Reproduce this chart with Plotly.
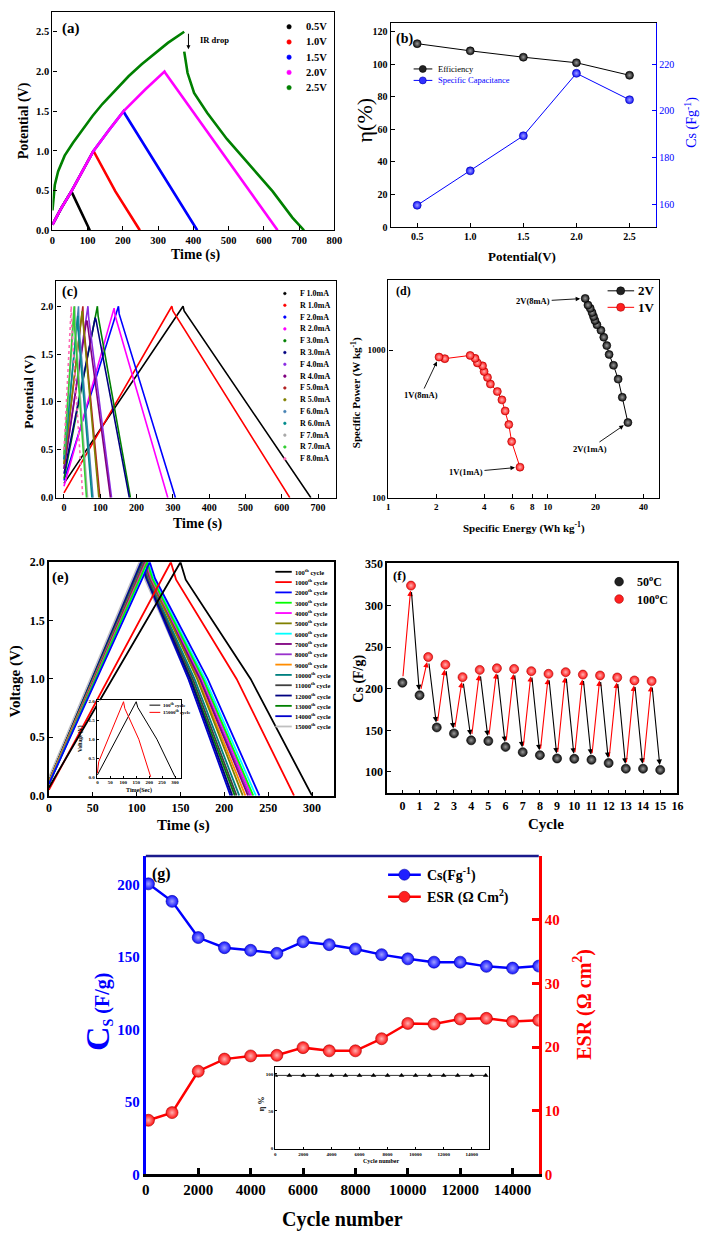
import plotly.graph_objects as go
import numpy as np

W, H = 708, 1240
SERIF = "Liberation Serif"

# ---------------- (a) GCD at different potential windows ----------------
a_labels = ['0.5V', '1.0V', '1.5V', '2.0V', '2.5V']
a_colors = ['#000000', '#ff0000', '#0000ff', '#ff00ff', '#008000']
a_t_05 = [0, 25, 53.7, 106]
a_v_05 = [0.07, 0.28, 0.49, 0.0]
a_t_10 = [0, 25, 53.7, 86, 116.4, 120, 178.6, 248]
a_v_10 = [0.07, 0.28, 0.49, 0.75, 1.0, 0.97, 0.49, 0.0]
a_t_15 = [0, 25, 53.7, 86, 116.4, 160, 202, 205, 411]
a_v_15 = [0.07, 0.28, 0.49, 0.75, 1.0, 1.26, 1.5, 1.47, 0.0]
a_t_20 = [0, 25, 53.7, 86, 116.4, 160, 202, 262.6, 318, 322, 639]
a_v_20 = [0.07, 0.28, 0.49, 0.75, 1.0, 1.26, 1.5, 1.77, 2.0, 1.97, 0.0]
a_t_25 = [0, 6.6, 16, 34.6, 57.9, 85.8, 113.7, 141.6, 178.8, 216, 253.2, 290.4, 327.6, 374,
          None, 374, 383.5, 402, 439, 495, 560, 625, 681, 714]
a_v_25 = [0.25, 0.57, 0.74, 0.94, 1.10, 1.27, 1.44, 1.59, 1.77, 1.94, 2.09, 2.23, 2.36, 2.50,
          None, 2.25, 1.98, 1.73, 1.48, 1.15, 0.82, 0.49, 0.16, 0.0]
a_times = [a_t_05, a_t_10, a_t_15, a_t_20, a_t_25]
a_volts = [a_v_05, a_v_10, a_v_15, a_v_20, a_v_25]

# ---------------- (b) efficiency & capacitance ----------------
b_pot = [0.5, 1.0, 1.5, 2.0, 2.5]
b_eff = [112.5, 108.1, 104.2, 100.8, 93.1]
b_cs = [159.7, 174.4, 189.4, 216.1, 204.8]

# ---------------- (c) GCD at different currents ----------------
c_labels = ['F 1.0mA', 'R 1.0mA', 'F 2.0mA', 'R 2.0mA', 'F 3.0mA', 'R 3.0mA', 'F 4.0mA', 'R 4.0mA',
            'F 5.0mA', 'R 5.0mA', 'F 6.0mA', 'R 6.0mA', 'F 7.0mA', 'R 7.0mA', 'F 8.0mA']
c_colors = ['#000000', '#ff0000', '#0000ff', '#ff00ff', '#008000', '#000080', '#8a2be2', '#800080',
            '#b22222', '#808000', '#4682b4', '#008b8b', '#a9a9a9', '#32cd32', '#ff69b4']
c_v0 = [0.15, 0.05, 0.18, 0.12, 0.20, 0.25, 0.30, 0.30, 0.35, 0.35, 0.40, 0.40, 0.45, 0.45, 0.50]
c_tpeak = [328, 297, 150, 138, 92, 86, 66, 62, 52, 50, 40, 38, 30, 28, 20]
c_vpeak = [2.0, 2.0, 2.0, 1.98, 2.0, 1.88, 2.0, 1.85, 2.0, 1.95, 2.0, 1.9, 2.0, 2.0, 2.0]
c_tdrop = [331, 300, 152, 141, 94, 88, 68, 64, 53, 51, 41, 39, 31, 29, 21]
c_vdrop = [1.95, 1.95, 1.92, 1.90, 1.90, 1.86, 1.88, 1.84, 1.85, 1.90, 1.80, 1.75, 1.80, 1.80, 1.80]
c_tend = [680, 622, 307, 286, 183, 180, 131, 128, 99, 96, 80, 77, 65, 62, 52]

# ---------------- (d) Ragone ----------------
d2_E = [31.9, 29.4, 27.7, 25.9, 24.3, 23.5, 22.5, 21.6, 20.4, 19.8, 19.4, 19.0, 18.5, 17.9, 17.2]
d2_P = [323, 479, 636, 789, 934, 1073, 1222, 1361, 1483, 1587, 1687, 1795, 1919, 2018, 2240]
d1_E = [6.70, 5.94, 5.70, 5.41, 5.16, 4.83, 4.37, 4.19, 3.99, 3.90, 3.62, 3.50, 3.26, 2.26, 2.08]
d1_P = [161, 240, 313, 387, 460, 524, 589, 653, 716, 782, 819, 879, 920, 875, 897]

# ---------------- (e) GCD vs cycles ----------------
e_cycles = ['100', '1000', '2000', '3000', '4000', '5000', '6000', '7000', '8000', '9000',
            '10000', '11000', '12000', '13000', '14000', '15000']
e_colors = ['#000000', '#ff0000', '#0000ff', '#00ff00', '#ff00ff', '#808000', '#00ffff', '#800080',
            '#9932cc', '#ff8c00', '#008080', '#404040', '#000080', '#008000', '#0000cd', '#c0c0c0']
e_v0 = [0.07, 0.05, 0.10, 0.10, 0.10, 0.10, 0.10, 0.10, 0.10, 0.12, 0.12, 0.12, 0.12, 0.12, 0.12, 0.14]
e_tpeak = [150, 139, 115, 112, 111, 110, 113, 109, 110, 109, 108, 107, 106, 106, 105, 104]
e_tknee = [156, 145, 121, 118, 117, 116, 119, 115, 116, 115, 114, 113, 112, 112, 111, 110]
e_vknee = [1.85, 1.85, 1.86, 1.86, 1.86, 1.86, 1.86, 1.86, 1.86, 1.86, 1.86, 1.86, 1.86, 1.86, 1.86, 1.86]
e_tmid = [230, 214, 181, 176, 175, 169, 178, 172, 173, 170, 166, 164, 161, 162, 159, 160]
e_tend = [300, 279.5, 240, 233, 231, 221, 236, 227, 229, 224, 217, 214, 209, 212, 207, 210]
# inset of (e)
ei_t100 = [0, 150, 156, 230, 300]
ei_v100 = [0.05, 2.0, 1.85, 1.0, 0.0]
ei_t15000 = [0, 5, 101, 106, 160, 206]
ei_v15000 = [0.1, 0.4, 2.0, 1.82, 1.0, 0.0]

# ---------------- (f) temperature switching ----------------
f_cyc50 = [0, 1, 2, 3, 4, 5, 6, 7, 8, 9, 10, 11, 12, 13, 14, 15]
f_cs50 = [207.3, 192.2, 153.5, 146.3, 138.0, 137.2, 130.1, 123.8, 120.2, 116.2, 115.8, 114.6,
          110.7, 103.9, 103.9, 102.4]
f_cyc100 = [0.5, 1.5, 2.5, 3.5, 4.5, 5.5, 6.5, 7.5, 8.5, 9.5, 10.5, 11.5, 12.5, 13.5, 14.5]
f_cs100 = [324.1, 238.2, 229.0, 214.0, 222.7, 224.7, 223.9, 221.2, 218.0, 220.0, 217.1, 216.0,
           213.6, 210.0, 209.3]

# ---------------- (g) cycling stability ----------------
g_cycle = [100, 1000, 2000, 3000, 4000, 5000, 6000, 7000, 8000, 9000, 10000, 11000, 12000, 13000, 14000, 15000]
g_cs = [200.7, 188.6, 163.6, 156.6, 154.8, 152.7, 160.7, 158.7, 155.7, 151.8, 148.9, 146.6, 146.6,
        143.7, 142.5, 143.9]
g_esr = [8.5, 9.7, 16.2, 18.1, 18.6, 18.7, 19.9, 19.4, 19.4, 21.3, 23.7, 23.6, 24.4, 24.5, 24.0, 24.2]
g_ticks = [0, 2000, 4000, 6000, 8000, 10000, 12000, 14000]
gi_cycle = [0, 1000, 2000, 3000, 4000, 5000, 6000, 7000, 8000, 9000, 10000, 11000, 12000, 13000, 14000, 15000]
gi_eta = [98, 98, 98, 98, 98, 98, 98, 98, 98, 98, 98, 98, 98, 98, 98, 98]

# =====================================================================
fig = go.Figure()
annos = []
shapes = []


def dom(l, r, t, b):
    return [l / W, r / W], [1 - b / H, 1 - t / H]


def axstyle(size, color='black', lw=1.3, ticklen=4, bold=True, mirror=True, ticks='inside', tw=1):
    return dict(showline=True, linecolor=color, linewidth=lw, mirror=mirror, ticks=ticks,
                ticklen=ticklen, tickwidth=tw, tickcolor=color, showgrid=False, zeroline=False,
                tickfont=dict(family=SERIF, size=size, color=color, weight='bold' if bold else 'normal'))


def text(x, y, s, size, color='black', bold=True, angle=0, xanchor='center'):
    annos.append(dict(x=x / W, y=1 - y / H, xref='paper', yref='paper', text=s, showarrow=False,
                      font=dict(family=SERIF, size=size, color=color,
                                weight='bold' if bold else 'normal'),
                      textangle=angle, xanchor=xanchor, yanchor='middle'))


def seg(x0, x1, y, color, width, dash='solid'):
    shapes.append(dict(type='line', xref='paper', yref='paper', x0=x0 / W, x1=x1 / W,
                       y0=1 - y / H, y1=1 - y / H, line=dict(color=color, width=width, dash=dash)))


def dot(x, y, r, color, lc=None):
    shapes.append(dict(type='circle', xref='paper', yref='paper', xsizemode='pixel', ysizemode='pixel',
                       xanchor=x / W, yanchor=1 - y / H, x0=-r, x1=r, y0=-r, y1=r,
                       fillcolor=color, line=dict(color=lc or color, width=0.6)))


def sphere(color, light, size, lc):
    return dict(color=color, size=size, line=dict(color=lc, width=0.6),
                gradient=dict(type='radial', color=light))


layout = dict(width=W, height=H, margin=dict(l=0, r=0, t=0, b=0), autosize=False,
              paper_bgcolor='white', plot_bgcolor='white', showlegend=False,
              font=dict(family=SERIF, color='black'))

# ---------- (a) ----------
for col, t, v in zip(a_colors, a_times, a_volts):
    fig.add_trace(go.Scatter(x=t, y=v, mode='lines', line=dict(color=col, width=2.6),
                             xaxis='x', yaxis='y', connectgaps=False))
xd, yd = dom(49.3, 336, 5, 226)
layout['xaxis'] = dict(domain=xd, anchor='y', range=[0, 800], dtick=100, **axstyle(10.5))
layout['yaxis'] = dict(domain=yd, anchor='x', range=[0, 2.75], dtick=0.5, tickformat='.1f', **axstyle(10.5))
text(20, 115, 'Potential (V)', 14, angle=-90)
text(195, 251, 'Time (s)', 14)
text(57, 22, '(a)', 15, xanchor='left')
for i, (lbl, col) in enumerate(zip(a_labels, a_colors)):
    y = 20 + 15.4 * i
    dot(290, y, 2.2, col)
    text(305, y, lbl, 10.5, xanchor='left')
annos.append(dict(x=386, y=2.28, xref='x', yref='y', ax=0, ay=-17, text='', showarrow=True,
                  arrowhead=2, arrowsize=0.8, arrowwidth=1, arrowcolor='black'))
text(197, 33, 'IR drop', 8.5, xanchor='left')

# ---------- (b) ----------
fig.add_trace(go.Scatter(x=b_pot, y=b_eff, mode='lines+markers', line=dict(color='black', width=1),
                         marker=sphere('#111111', '#9a9a9a', 8, '#000000'), xaxis='x2', yaxis='y2'))
fig.add_trace(go.Scatter(x=b_pot, y=b_cs, mode='lines+markers', line=dict(color='#0000ff', width=1),
                         marker=sphere('#1010ff', '#a0a0ff', 8, '#0000aa'), xaxis='x2', yaxis='y3'))
xd, yd = dom(393.3, 663.3, 16, 222.7)
layout['xaxis2'] = dict(domain=xd, anchor='y2', range=[0.25, 2.75], tickvals=[0.5, 1.0, 1.5, 2.0, 2.5],
                        tickformat='.1f', **axstyle(10))
layout['yaxis2'] = dict(domain=yd, anchor='x2', range=[0, 125.3], dtick=20, **axstyle(10, mirror=False))
layout['yaxis3'] = dict(overlaying='y2', side='right', anchor='x2', range=[150.4, 237.7],
                        tickvals=[160, 180, 200, 220], **axstyle(10, color='#0000ff', bold=False, mirror=False))
text(367, 115, 'η(%)', 22, bold=False, angle=-90)
text(699, 117, 'Cs (Fg<sup>-1</sup>)', 14, color='#0000ff', bold=False, angle=-90)
text(527, 253, 'Potential(V)', 13)
text(397, 32, '(b)', 14, xanchor='left')
seg(416.7, 435.7, 62.7, 'black', 1)
dot(426, 62.7, 3.5, '#222222', 'black')
text(439, 62.7, 'Efficiency', 8.5, bold=False, xanchor='left')
seg(416.7, 435.7, 74.3, '#0000ff', 1)
dot(426, 74.3, 3.5, '#3030ff', '#0000aa')
text(439, 74.3, 'Specific Capacitance', 8.5, color='#0000ff', bold=False, xanchor='left')

# ---------- (c) ----------
for i in range(len(c_labels)):
    t = [0, c_tpeak[i], c_tdrop[i], c_tend[i]]
    v = [c_v0[i], c_vpeak[i], c_vdrop[i], 0.0]
    fig.add_trace(go.Scatter(x=t, y=v, mode='lines',
                             line=dict(color=c_colors[i], width=1.6,
                                       dash='dot' if c_labels[i] == 'F 8.0mA' else 'solid'),
                             xaxis='x3', yaxis='y4'))
xd, yd = dom(53.3, 338, 277.7, 496.7)
layout['xaxis3'] = dict(domain=xd, anchor='y4', range=[-20.9, 750], dtick=100, **axstyle(10))
layout['yaxis4'] = dict(domain=yd, anchor='x3', range=[0, 2.26], dtick=0.5, tickformat='.1f', **axstyle(10))
text(25, 390, 'Potential (V)', 13.5, angle=-90)
text(197, 523, 'Time (s)', 14)
text(57, 288, '(c)', 14, xanchor='left')
for i, (lbl, col) in enumerate(zip(c_labels, c_colors)):
    y = 290 + 11.95 * i
    dot(285.7, y, 1.3, col)
    text(299, y, lbl, 8, xanchor='left')

# ---------- (d) ----------
fig.add_trace(go.Scatter(x=d2_E, y=d2_P, mode='lines+markers', line=dict(color='black', width=1),
                         marker=sphere('#111111', '#9a9a9a', 8, '#000000'), xaxis='x4', yaxis='y5'))
fig.add_trace(go.Scatter(x=d1_E, y=d1_P, mode='lines+markers', line=dict(color='#ff0000', width=1),
                         marker=sphere('#ff1010', '#ffb0b0', 8, '#aa0000'), xaxis='x4', yaxis='y5'))
xd, yd = dom(391, 666.3, 276, 496.7)
layout['xaxis4'] = dict(domain=xd, anchor='y5', type='log', range=[0, np.log10(50)],
                        tickvals=[1, 2, 4, 6, 8, 10, 20, 40], ticktext=['1', '2', '4', '6', '8', '10', '20', '40'],
                        **axstyle(9))
layout['yaxis5'] = dict(domain=yd, anchor='x4', type='log', range=[2, np.log10(3000)],
                        tickvals=[100, 1000], ticktext=['100', '1000'], **axstyle(9))
text(358, 390, 'Specific Power (W kg<sup>-1</sup>)', 11, angle=-90)
text(529, 527, 'Specific Energy (Wh kg<sup>-1</sup>)', 11)
text(397, 287, '(d)', 12, xanchor='left')
seg(614, 641, 287.3, 'black', 1)
dot(627.3, 287.3, 4, '#222222', 'black')
text(643, 287.3, '2V', 13, xanchor='left')
seg(614, 641, 304, '#ff0000', 1)
dot(627.3, 304, 4, '#ff2020', '#aa0000')
text(643, 304, '1V', 13, xanchor='left')
for lbl, E, P, ax, ay in [('2V(8mA)', d2_E[-1], d2_P[-1], -52, 3),
                          ('1V(8mA)', d1_E[-1], d1_P[-1], -18, 38),
                          ('1V(1mA)', d1_E[0], d1_P[0], -54, 5),
                          ('2V(1mA)', d2_E[0], d2_P[0], -38, 26)]:
    annos.append(dict(x=np.log10(E), y=np.log10(P), xref='x4', yref='y5', ax=ax, ay=ay, text=lbl,
                      showarrow=True, arrowhead=2, arrowsize=1, arrowwidth=0.9, arrowcolor='black',
                      standoff=5, font=dict(family=SERIF, size=8.5, color='black', weight='bold')))

# ---------- (e) ----------
for i in reversed(range(len(e_cycles))):
    t = [0, e_tpeak[i], e_tknee[i], e_tmid[i], e_tend[i]]
    v = [e_v0[i], 2.0, e_vknee[i], 1.0, 0.0]
    fig.add_trace(go.Scatter(x=t, y=v, mode='lines',
                             line=dict(color=e_colors[i], width=3.2 if i == 15 else 1.8),
                             xaxis='x5', yaxis='y6'))
xd, yd = dom(45.7, 336, 562, 798.3)
layout['xaxis5'] = dict(domain=xd, anchor='y6', range=[0, 325.4], dtick=50, **axstyle(12, lw=1.8))
layout['yaxis6'] = dict(domain=yd, anchor='x5', range=[0, 2.0], dtick=0.5, tickformat='.1f',
                        **axstyle(12, lw=1.8))
text(12, 683, 'Voltage (V)', 15, angle=-90)
text(183, 829, 'Time (s)', 15)
text(47, 577, '(e)', 15, xanchor='left')
for i, (cyc, col) in enumerate(zip(e_cycles, e_colors)):
    y = 571.7 + 10.44 * i
    seg(276, 292.7, y, col, 1.8)
    text(294, y, cyc + '<sup>th</sup> cycle', 6.5, xanchor='left')
# inset
fig.add_trace(go.Scatter(x=ei_t100, y=ei_v100, mode='lines', line=dict(color='black', width=1),
                         xaxis='x6', yaxis='y7'))
fig.add_trace(go.Scatter(x=ei_t15000, y=ei_v15000, mode='lines', line=dict(color='#ff0000', width=1),
                         xaxis='x6', yaxis='y7'))
xd, yd = dom(94.3, 180, 701.7, 780)
layout['xaxis6'] = dict(domain=xd, anchor='y7', range=[-2.7, 323], dtick=50,
                        **axstyle(5, lw=0.8, ticklen=2))
layout['yaxis7'] = dict(domain=yd, anchor='x6', range=[-0.02, 2.04], dtick=0.5, tickformat='.1f',
                        **axstyle(5, lw=0.8, ticklen=2))
text(77.3, 740, 'Voltage (V)', 5.5, angle=-90)
text(137, 793, 'Time(Sec)', 6)
seg(148, 159, 706.7, 'black', 1)
text(160, 706.7, '100<sup>th</sup> cycle', 5, xanchor='left')
seg(148, 159, 714, '#ff0000', 1)
text(160, 714, '15000<sup>th</sup> cycle', 5, xanchor='left')

# ---------- (f) ----------
fig.add_trace(go.Scatter(x=f_cyc50, y=f_cs50, mode='markers',
                         marker=sphere('#111111', '#9a9a9a', 9, '#000000'), xaxis='x7', yaxis='y8'))
fig.add_trace(go.Scatter(x=f_cyc100, y=f_cs100, mode='markers',
                         marker=sphere('#ff1010', '#ffb0b0', 9, '#aa0000'), xaxis='x7', yaxis='y8'))
for i in range(len(f_cyc100)):
    annos.append(dict(x=f_cyc100[i], y=f_cs100[i], ax=f_cyc50[i], ay=f_cs50[i],
                      xref='x7', yref='y8', axref='x7', ayref='y8', text='', showarrow=True,
                      arrowhead=2, arrowsize=1, arrowwidth=1.1, arrowcolor='#ff0000',
                      standoff=5, startstandoff=5))
    annos.append(dict(x=f_cyc50[i + 1], y=f_cs50[i + 1], ax=f_cyc100[i], ay=f_cs100[i],
                      xref='x7', yref='y8', axref='x7', ayref='y8', text='', showarrow=True,
                      arrowhead=2, arrowsize=1, arrowwidth=1.1, arrowcolor='black',
                      standoff=5, startstandoff=5))
xd, yd = dom(389.7, 685, 563.3, 796)
layout['xaxis7'] = dict(domain=xd, anchor='y8', range=[-0.89, 16], dtick=1, **axstyle(12, lw=1.5))
layout['yaxis8'] = dict(domain=yd, anchor='x7', range=[74.2, 350.7], tickvals=[100, 150, 200, 250, 300, 350],
                        **axstyle(12, lw=1.5))
text(361, 680, 'Cs (F/g)', 14, angle=-90)
text(551, 827, 'Cycle', 15)
text(394, 575, '(f)', 13, xanchor='left')
dot(625.7, 581.7, 4.3, '#222222', 'black')
text(642, 581.7, '50<sup>o</sup>C', 12, xanchor='left')
dot(625.7, 599.3, 4.3, '#ff2020', '#aa0000')
text(642, 599.3, '100<sup>o</sup>C', 12, xanchor='left')

# ---------- (g) ----------
fig.add_trace(go.Scatter(x=g_cycle, y=g_cs, mode='lines+markers', line=dict(color='#0000ff', width=2.5),
                         marker=sphere('#1010ff', '#a0a0ff', 12, '#0000aa'), xaxis='x8', yaxis='y9'))
fig.add_trace(go.Scatter(x=g_cycle, y=g_esr, mode='lines+markers', line=dict(color='#ff0000', width=2.5),
                         marker=sphere('#ff1010', '#ffb0b0', 12, '#aa0000'), xaxis='x8', yaxis='y10'))
xd, yd = dom(144.3, 544, 859.3, 1181.7)
layout['xaxis8'] = dict(domain=xd, anchor='y9', range=[0, 15000], tickvals=g_ticks,
                        ticktext=[str(v) for v in g_ticks],
                        **axstyle(15, lw=2.5, ticklen=7, mirror=False, tw=2.5))
layout['yaxis9'] = dict(domain=yd, anchor='x8', range=[0, 220], tickvals=[0, 50, 100, 150, 200],
                        **axstyle(15, color='#0000ff', lw=3, mirror=False, ticks=''))
layout['yaxis10'] = dict(overlaying='y9', side='right', anchor='x8', range=[0, 50],
                         tickvals=[0, 10, 20, 30, 40],
                         **axstyle(15, color='#ff0000', lw=3, ticklen=7, mirror=False, tw=2.5))
shapes.append(dict(type='line', xref='x8 domain', yref='y9 domain', x0=0, x1=1, y0=1, y1=1,
                   line=dict(color='#1a1a8c', width=2.5)))
text(95, 1017, '<span style="font-size:34px">C</span><sub>S</sub> (F/g)', 20, color='#0000ff', angle=-90)
text(589, 1010, 'ESR (Ω cm<sup>2</sup>)', 20, color='#ff0000', angle=-90)
text(344, 1227, 'Cycle number', 20)
text(149, 878, '(g)', 16, xanchor='left')
seg(390.7, 424, 878.3, '#0000ff', 2.5)
dot(407.3, 878.3, 5.5, '#2020ff', '#0000aa')
text(428, 878.3, 'Cs(Fg<sup>-1</sup>)', 14, xanchor='left')
seg(390.7, 424, 900.7, '#ff0000', 2.5)
dot(407.3, 900.7, 5.5, '#ff2020', '#aa0000')
text(428, 900.7, 'ESR (Ω Cm<sup>2</sup>)', 14, xanchor='left')
# inset of (g)
fig.add_trace(go.Scatter(x=gi_cycle, y=gi_eta, mode='lines+markers', line=dict(color='black', width=0.8),
                         marker=dict(symbol='triangle-up', size=5, color='black'), xaxis='x9', yaxis='y11'))
xd, yd = dom(276, 493.3, 1072.7, 1156)
layout['xaxis9'] = dict(domain=xd, anchor='y11', range=[0, 15230], tickvals=g_ticks,
                        ticktext=[str(v) for v in g_ticks], **axstyle(5, lw=1, ticklen=2))
layout['yaxis11'] = dict(domain=yd, anchor='x9', range=[-1.3, 109.7], tickvals=[0, 50, 100],
                         **axstyle(5, lw=1, ticklen=2))
text(262, 1110, 'η %', 8, angle=-90)
text(384, 1168, 'Cycle number', 6)

layout['annotations'] = annos
layout['shapes'] = shapes
fig.update_layout(**layout)
fig.write_html("out.html")
